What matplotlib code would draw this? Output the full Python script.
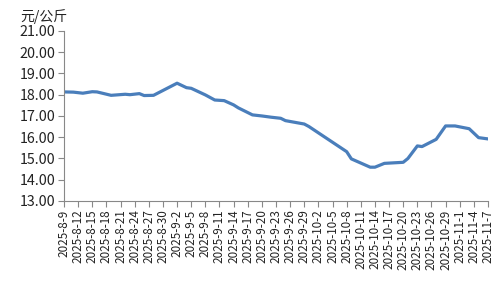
import matplotlib
matplotlib.use("Agg")
import matplotlib.pyplot as plt
import datetime as dt

plt.rcParams['font.family'] = ['Noto Sans CJK SC', 'DejaVu Sans']

# price points (yuan / kg)
dates = ["2025-8-9", "2025-8-11", "2025-8-13", "2025-8-15", "2025-8-16", "2025-8-19",
         "2025-8-22", "2025-8-23", "2025-8-25", "2025-8-26", "2025-8-28", "2025-9-2",
         "2025-9-4", "2025-9-5", "2025-9-8", "2025-9-10", "2025-9-12", "2025-9-14",
         "2025-9-15", "2025-9-18", "2025-9-20", "2025-9-22", "2025-9-24", "2025-9-25",
         "2025-9-29", "2025-9-30", "2025-10-8", "2025-10-9", "2025-10-13", "2025-10-14",
         "2025-10-16", "2025-10-20", "2025-10-21", "2025-10-23", "2025-10-24", "2025-10-27",
         "2025-10-29", "2025-10-31", "2025-11-3", "2025-11-5", "2025-11-7"]
prices = [18.13, 18.12, 18.07, 18.14, 18.13, 17.97,
          18.02, 18.00, 18.05, 17.96, 17.97, 18.54,
          18.33, 18.30, 17.99, 17.75, 17.72, 17.52,
          17.38, 17.05, 17.00, 16.94, 16.89, 16.78,
          16.62, 16.50, 15.32, 14.98, 14.59, 14.59,
          14.77, 14.82, 15.00, 15.59, 15.56, 15.90,
          16.53, 16.53, 16.40, 15.98, 15.92]
unit = "元/公斤"

x = [dt.datetime.strptime(d, "%Y-%m-%d") for d in dates]
start = dt.datetime(2025, 8, 9)
end = dt.datetime(2025, 11, 7)
tick_days = [start + dt.timedelta(days=3 * i) for i in range(31)]

fig = plt.figure(figsize=(5, 3), dpi=100)
ax = fig.add_axes([0.128, 0.33, 0.848, 0.567])
ax.plot(x, prices, color="#4a7ebb", linewidth=2.3, solid_joinstyle="round")

ax.set_xlim(start, end)
ax.set_ylim(13, 21)
ax.set_yticks(range(13, 22))
ax.yaxis.set_major_formatter(plt.FuncFormatter(lambda v, p: "%.2f" % v))
ax.set_xticks(tick_days)
ax.set_xticklabels(["%d-%d-%d" % (d.year, d.month, d.day) for d in tick_days],
                   rotation=90, fontsize=8.4, color="#222222")
for lab in ax.get_yticklabels():
    lab.set_fontsize(10.3)
    lab.set_color("#222222")

for s in ["top", "right"]:
    ax.spines[s].set_visible(False)
for s in ["left", "bottom"]:
    ax.spines[s].set_color("#888888")
ax.tick_params(axis="both", direction="out", length=4, color="#888888", pad=2)

fig.text(0.04, 0.97, unit, fontsize=10, color="#222222", va="top", ha="left")

fig.savefig("out.png", dpi=100)
